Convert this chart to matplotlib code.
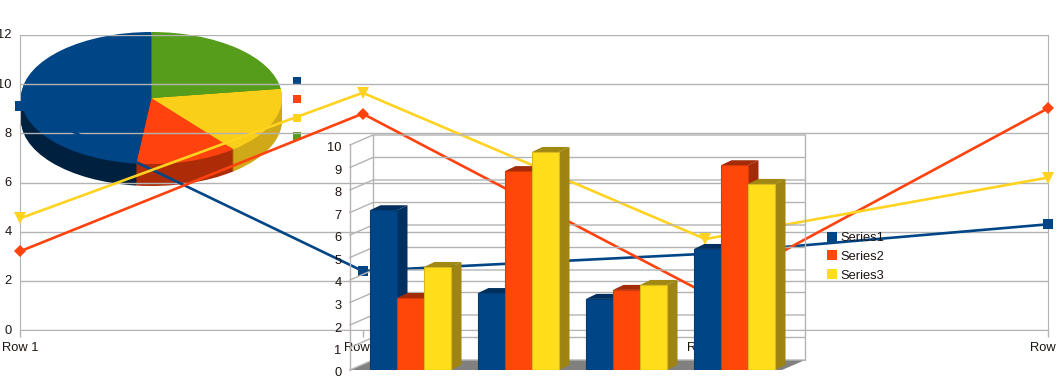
import matplotlib
matplotlib.use("Agg")
import matplotlib.pyplot as plt
from matplotlib.lines import Line2D
from matplotlib.patches import Polygon
from matplotlib.transforms import ScaledTranslation

# ---- data ----
rows = ["Row 1", "Row 2", "Row 3", "Row 4"]
series_names = ["Series1", "Series2", "Series3"]
line_series1 = [9.1, 2.4, 3.1, 4.3]
line_series2 = [3.2, 8.8, 1.5, 9.02]
line_series3 = [4.54, 9.65, 3.7, 6.2]
pie_values = [9.1, 2.4, 3.1, 4.3]
bar_series1 = [7.1, 3.42, 3.16, 5.38]
bar_series2 = [3.2, 8.84, 3.56, 9.1]
bar_series3 = [4.58, 9.69, 3.78, 8.27]

# ---- style ----
W, H = 1058, 378
BLUE, RED, YEL, GRN = "#004586", "#ff420e", "#ffd320", "#579d1c"
GRID = "#b3b3b3"
TXT = "#1c1410"
plt.rcParams["font.family"] = ["Liberation Sans", "DejaVu Sans"]
plt.rcParams["font.size"] = 9.3

fig = plt.figure(figsize=(W / 100, H / 100), dpi=100, facecolor="white")


def rect(x0, y_top, x1, y_bottom):
    return [x0 / W, 1 - y_bottom / H, (x1 - x0) / W, (y_bottom - y_top) / H]


def nudge_labels(labels, dx_px, dy_px):
    off = ScaledTranslation(dx_px / 100, dy_px / 100, fig.dpi_scale_trans)
    for lab in labels:
        lab.set_transform(lab.get_transform() + off)


# ---- pie (lowest layer) ----
pax = fig.add_axes(rect(21, 32, 282, 164), zorder=1)
side_cols = ["#00203f", "#ad2c08", "#cfa918", "#3f7414"]
top_cols = [BLUE, RED, "#f9cf19", GRN]
thick = 22 / 66
steps = 22
for i in range(steps, 0, -1):
    pax.pie(pie_values, colors=side_cols, startangle=90, counterclock=True,
            center=(0, -thick * i / steps), radius=1)
pax.pie(pie_values, colors=top_cols, startangle=90, counterclock=True, radius=1)
pax.set_aspect("auto")
pax.set_xlim(-1, 1)
pax.set_ylim(-1, 1)
pie_handles = [Line2D([], [], ls="none", marker="s", ms=6, color=c, mew=0)
               for c in [BLUE, RED, YEL, GRN]]
pax.legend(pie_handles, ["", "", "", ""], frameon=False, loc="upper left",
           bbox_to_anchor=(291 / W, 1 - 76 / H), bbox_transform=fig.transFigure,
           borderaxespad=0, borderpad=0, labelspacing=0.51, handlelength=1.0,
           handletextpad=0)

# ---- line chart ----
lax = fig.add_axes(rect(20, 35, 1048, 330), zorder=2)
lax.patch.set_visible(False)
xs = range(len(rows))
for ys, c, m, ms in [(line_series1, BLUE, "s", 7.5),
                     (line_series2, RED, "D", 6),
                     (line_series3, YEL, "v", 8)]:
    lax.plot(xs, ys, color=c, lw=1.9, marker=m, ms=ms, mew=0, clip_on=False, zorder=3)
lax.set_xlim(0, 3)
lax.set_ylim(0, 12)
lax.set_yticks(range(0, 13, 2))
lax.set_xticks(list(xs))
lax.set_xticklabels(rows, color=TXT)
lax.grid(axis="y", color=GRID, lw=1)
lax.set_axisbelow(True)
lax.tick_params(axis="y", length=0, pad=6, labelcolor=TXT)
lax.tick_params(axis="x", length=5, width=1, color=GRID, pad=3.5)
nudge_labels(lax.get_yticklabels(), 0, 1)
lax.spines["top"].set_visible(False)
for s in ["left", "right", "bottom"]:
    lax.spines[s].set_color(GRID)

# ---- 3D look column chart ----
bax = fig.add_axes(rect(350, 135, 805, 370), zorder=3)
bax.patch.set_visible(False)
group_px = 108.0
unit_px = 22.5
x_left = (350 - 410.5) / group_px
x_right = (805 - 410.5) / group_px
wall_dx = 23 / group_px
wall_dy = 10 / unit_px
depth_dx = 10.5 / group_px
depth_dy = 5 / unit_px
bar_w = 27 / group_px
bax.set_xlim(x_left, x_right)
bax.set_ylim(0, 235 / unit_px)

# floor
bax.add_patch(Polygon([(x_left, 0), (x_left + wall_dx, wall_dy), (x_right, wall_dy),
                       (x_right - wall_dx, 0)], closed=True, fc="#808080", ec="none",
                      clip_on=False, zorder=1))
# walls
for k in range(0, 11):
    bax.plot([x_left, x_left + wall_dx, x_right], [k, k + wall_dy, k + wall_dy],
             color=GRID, lw=1, zorder=1.5, clip_on=False)
for xv, y0, y1 in [(x_left, 0, 10), (x_left + wall_dx, wall_dy, 10 + wall_dy),
                   (x_right, wall_dy, 10 + wall_dy)]:
    bax.plot([xv, xv], [y0, y1], color=GRID, lw=1, zorder=1.5, clip_on=False)

styles = [
    (bar_series1, BLUE, "#003060", "#002f5e", "#003c75"),
    (bar_series2, "#ff4709", "#a32b09", "#a32b09", "#d63a08"),
    (bar_series3, "#ffdd1a", "#9e8412", "#a08812", "#d8b81a"),
]
for g in range(len(rows)):
    for j, (vals, face, side, top, edge) in enumerate(styles):
        v = vals[g]
        x0 = g + (j - 1.5) * bar_w
        x1 = x0 + bar_w
        z = 2 + g + j * 0.1
        bax.add_patch(Polygon([(x1, 0), (x1 + depth_dx, depth_dy), (x1 + depth_dx, v + depth_dy), (x1, v)],
                              closed=True, fc=side, ec="none", zorder=z))
        bax.add_patch(Polygon([(x0, v), (x0 + depth_dx, v + depth_dy), (x1 + depth_dx, v + depth_dy), (x1, v)],
                              closed=True, fc=top, ec="none", zorder=z))
        bax.bar(x0, v, width=bar_w, align="edge", color=face, edgecolor=edge, linewidth=0.8,
                zorder=z + 0.05)

bax.set_xticks([])
bax.set_yticks(range(0, 11))
bax.tick_params(axis="y", length=0, pad=6, labelcolor=TXT)
nudge_labels(bax.get_yticklabels(), 0, -2)
for s in bax.spines.values():
    s.set_visible(False)
bar_handles = [Line2D([], [], ls="none", marker="s", ms=6.5, color=c, mew=0)
               for c in [BLUE, "#ff4709", "#ffdd1a"]]
bax.legend(bar_handles, series_names, frameon=False, loc="upper left",
           bbox_to_anchor=(826 / W, 1 - 229 / H - 3 / H), bbox_transform=fig.transFigure,
           borderaxespad=0, borderpad=0, labelspacing=0.52, handlelength=1.0,
           handletextpad=0.15, labelcolor=TXT, fontsize=9.3)

fig.savefig("out.png", dpi=100, facecolor="white")
